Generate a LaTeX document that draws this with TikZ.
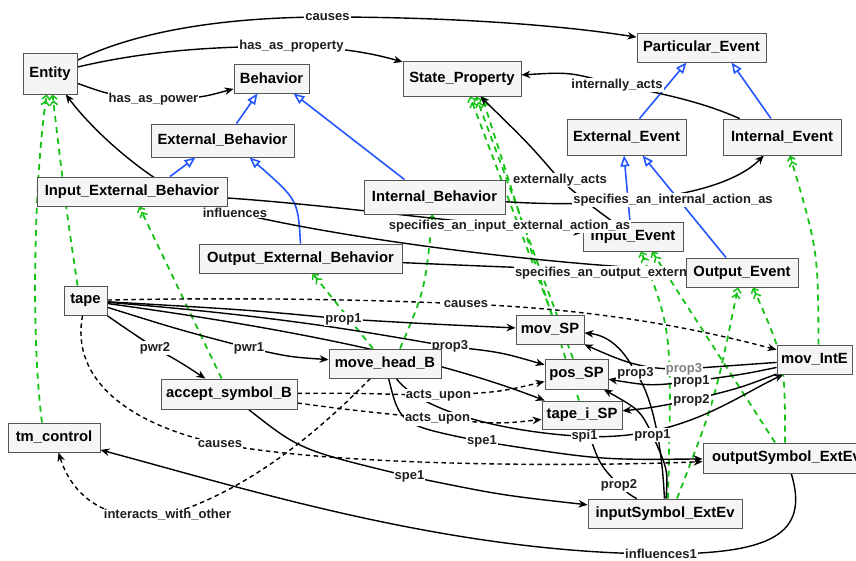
\documentclass[tikz,border=0pt]{standalone}
\usepackage{fontspec}
\setmainfont{Liberation Sans}
\usetikzlibrary{arrows.meta}
\pgfdeclarelayer{bg}
\pgfdeclarelayer{lbl}
\pgfdeclarelayer{top}
\pgfsetlayers{bg,lbl,main,top}
\definecolor{nodefill}{HTML}{F5F5F5}
\definecolor{nodeline}{HTML}{555555}
\definecolor{isagreen}{HTML}{17C217}
\definecolor{subblue}{HTML}{2457FF}
\definecolor{lbltext}{HTML}{1E1E1E}
\tikzset{
  box/.style={draw=nodeline, fill=nodefill, line width=0.9pt, inner sep=0pt, font=\bfseries\fontsize{14.8}{16}\selectfont, text=black},
  lbl/.style={fill=white, inner sep=1pt, font=\bfseries\fontsize{13}{14}\selectfont, text=lbltext},
  rel/.style={draw=black, line width=1.4pt, -{Stealth[length=9pt,width=7.5pt]}},
  drel/.style={rel, dash pattern=on 4.5pt off 3.5pt},
  inst/.style={draw=isagreen, line width=1.8pt, dash pattern=on 6pt off 5pt, -{Straight Barb[length=4pt,width=8pt,line width=1.5pt] Straight Barb[length=4pt,width=8pt,line width=1.5pt]}},
  sub/.style={draw=subblue, line width=1.6pt, -{Triangle[open,length=11pt,width=9pt,fill=white]}},
}
\begin{document}
\begin{tikzpicture}[x=1pt,y=-1pt]
\useasboundingbox (0,0) rectangle (856,560);
% ---------- nodes ----------
\node[box, minimum width=54pt,  minimum height=41pt] (ent)   at (50,73.5)   {Entity};
\node[box, minimum width=75pt,  minimum height=29pt] (beh)   at (271.5,78.5) {Behavior};
\node[box, minimum width=143pt, minimum height=33pt] (extb)  at (222.5,140.5) {External\_Behavior};
\node[box, minimum width=118pt, minimum height=35pt] (sp)    at (462,78.5)  {State\_Property};
\node[box, minimum width=129pt, minimum height=29pt] (pe)    at (701.5,47.5) {Particular\_Event};
\node[box, minimum width=119pt, minimum height=36pt] (exte)  at (626.5,137) {External\_Event};
\node[box, minimum width=118pt, minimum height=36pt] (inte)  at (782,137)   {Internal\_Event};
\node[box, minimum width=190pt, minimum height=29pt] (ieb)   at (132,191.5) {Input\_External\_Behavior};
\node[box, minimum width=141pt, minimum height=34pt] (intb)  at (434.5,197) {Internal\_Behavior};
\node[box, minimum width=203pt, minimum height=29pt] (oeb)   at (300.5,258.5) {Output\_External\_Behavior};
\node[box, minimum width=100pt, minimum height=29pt] (inpe)  at (633,236.5) {Input\_Event};
\node[box, minimum width=112pt, minimum height=29pt] (oute)  at (742,272.5) {Output\_Event};
\node[box, minimum width=43pt,  minimum height=29pt] (tape)  at (85.5,300.5) {tape};
\node[box, minimum width=68pt,  minimum height=29pt] (movsp) at (550,329.5) {mov\_SP};
\node[box, minimum width=112pt, minimum height=29pt] (mhb)   at (385,363.5) {move\_head\_B};
\node[box, minimum width=63pt,  minimum height=30pt] (possp) at (576.5,374) {pos\_SP};
\node[box, minimum width=75pt,  minimum height=29pt] (movint) at (814.5,359.5) {mov\_IntE};
\node[box, minimum width=136pt, minimum height=30pt] (asb)   at (229,394)   {accept\_symbol\_B};
\node[box, minimum width=80pt,  minimum height=28pt] (tisp)  at (582,415)   {tape\_i\_SP};
\node[box, minimum width=92pt,  minimum height=29pt] (tmc)   at (54,437.5)  {tm\_control};
\node[box, minimum width=167pt, minimum height=30pt] (osym)  at (786.5,458) {outputSymbol\_ExtEv};
\node[box, minimum width=154pt, minimum height=29pt] (isym)  at (665,513.5) {inputSymbol\_ExtEv};
% ---------- labels ----------
\begin{pgfonlayer}{lbl}
\node[lbl] (l1)  at (327.5,17)  {causes};
\node[lbl] (l2)  at (291.5,46.5) {has\_as\_property};
\node[lbl] (l3)  at (153.5,99)  {has\_as\_power};
\node[lbl] (l4)  at (617,85)    {internally\_acts};
\node[lbl] (l5)  at (560,180)   {externally\_acts};
\node[lbl] (l6)  at (235,212.5) {influences};
\node[lbl] (l7)  at (673,200)   {specifies\_an\_internal\_action\_as};
\node[lbl] (l9)  at (640,273)   {specifies\_an\_output\_external\_action\_as};
\node[lbl] (l10) at (466,304)   {causes};
\node[lbl] (l11) at (343.5,319) {prop1};
\node[lbl] (l12) at (450,346.5) {prop3};
\node[lbl] (l13) at (249,348)   {pwr1};
\node[lbl] (l14) at (155,348)   {pwr2};
\node[lbl] (l15) at (438.5,395.5) {acts\_upon};
\node[lbl] (l16) at (437.5,419) {acts\_upon};
\node[lbl] (l17) at (482,441.5) {spe1};
\node[lbl] (l18) at (220,444)   {causes};
\node[lbl] (l19) at (409.5,476.5) {spe1};
\node[lbl] (l20) at (167.5,515) {interacts\_with\_other};
\node[lbl] (l21) at (661,554)   {influences1};
\node[lbl, text=gray] (l22) at (684,369) {prop3};
\node[lbl] (l23) at (691.5,381.5) {prop1};
\node[lbl] (l24) at (691.5,400) {prop2};
\node[lbl] (l25) at (584.5,436.5) {spi1};
\node[lbl] (l26) at (635.5,373) {prop3};
\node[lbl] (l27) at (652.5,435) {prop1};
\node[lbl] (l28) at (619,485)   {prop2};
\end{pgfonlayer}
\begin{pgfonlayer}{top}
\node[lbl, inner sep=0.5pt] (l8) at (509.5,226.5) {specifies\_an\_input\_external\_action\_as};
\end{pgfonlayer}
% ---------- edges ----------
\begin{pgfonlayer}{bg}
\fill[white] (0,0) rectangle (856,560);
% subclass (blue)
\draw[sub] ([xshift=14pt]extb.north) -- ([xshift=-14pt]beh.south);
\draw[sub] ([xshift=-30pt]intb.north) -- ([xshift=22pt]beh.south);
\draw[sub] ([xshift=38pt]ieb.north) -- ([xshift=-27pt]extb.south);
\draw[sub] (oeb.north) .. controls (298,200) .. ([xshift=27pt]extb.south);
\draw[sub] ([xshift=13pt]exte.north) -- ([xshift=-15pt]pe.south);
\draw[sub] ([xshift=-11pt]inte.north) -- ([xshift=30pt]pe.south);
\draw[sub] ([xshift=-3pt]inpe.north) -- ([xshift=-2.5pt]exte.south);
\draw[sub] ([xshift=-16pt]oute.north) -- ([xshift=16pt]exte.south);
% instance (green)
\draw[inst] ([xshift=-12pt]tmc.north) .. controls (30,330) and (35,170) .. (ent);
\draw[inst] ([xshift=-8pt]tape.north) .. controls (65,200) .. (ent);
\draw[inst] (asb) -- (ieb);
\draw[inst] ([xshift=-12pt]mhb.north) -- ([xshift=12pt]oeb.south);
\draw[inst] ([xshift=15pt]mhb.north) .. controls (425,290) .. ([xshift=-2pt]intb.south);
\draw[inst] ([xshift=2pt]movsp.north) -- ([xshift=8pt]sp.south);
\draw[inst] ([xshift=-3.5pt]possp.north) -- ([xshift=14pt]sp.south);
\draw[inst] ([xshift=-3pt]tisp.north) -- ([xshift=20pt]sp.south);
\draw[inst] ([xshift=3pt]isym.north) .. controls (672,330) .. ([xshift=8pt]inpe.south);
\draw[inst] ([xshift=-11.5pt]osym.north) -- ([xshift=19pt]inpe.south);
\draw[inst] ([xshift=12pt]isym.north) .. controls (715,400) .. ([xshift=-4pt]oute.south);
\draw[inst] ([xshift=-1.5pt]osym.north) .. controls (785,360) .. ([xshift=11pt]oute.south);
\draw[inst] ([xshift=4pt]movint.north) .. controls (818,250) .. ([xshift=8pt]inte.south);
% relations (black)
\draw[rel] (ent) .. controls (150,25) and (250,17) .. (l1.center) .. controls (450,17) and (560,25) .. (pe);
\draw[rel] (ent) .. controls (150,50) and (220,46) .. (l2.center) .. controls (350,47) and (385,57) .. (sp);
\draw[rel] (ent) .. controls (110,95) .. (l3.center) .. controls (200,98) .. (beh);
\draw[rel] (oute) .. controls (550,265) and (350,240) .. (l6.center) .. controls (175,205) and (100,140) .. (ent);
\draw[rel] (inte) .. controls (720,110) and (690,98) .. (l4.center) .. controls (570,72) .. (sp);
\draw[rel] (inpe) .. controls (590,205) .. (l5.center) .. controls (530,145) .. (sp);
\draw[rel] (intb) .. controls (600,208) and (720,200) .. (inte);
\draw[rel] (ieb) .. controls (330,205) and (450,222) .. (inpe);
\draw[rel] (oeb) .. controls (460,265) and (560,270) .. (oute);
\draw[rel] (tape) .. controls (250,310) .. (l11.center) .. controls (430,324) .. (movsp);
\draw[rel] (tape) .. controls (300,318) and (380,335) .. (l12.center) .. controls (500,352) .. (possp);
\draw[rel] (tape) .. controls (300,330) and (440,360) .. (tisp);
\draw[rel] (tape) .. controls (180,330) .. (l13.center) .. controls (290,357) .. (mhb);
\draw[rel] (tape) .. controls (125,328) .. (l14.center) .. controls (180,362) .. (asb);
\draw[drel] (tape) .. controls (250,297) and (380,300) .. (l10.center) .. controls (620,310) and (720,335) .. (movint);
\draw[drel] (tape) .. controls (70,380) and (130,425) .. (l18.center) .. controls (350,468) and (600,466) .. (osym);
\draw[drel] (asb) .. controls (350,393) .. (l15.center) .. controls (500,392) .. (possp);
\draw[drel] (asb) .. controls (350,410) .. (l16.center) .. controls (500,424) .. (tisp);
\draw[rel] (mhb) .. controls (400,425) .. (l17.center) .. controls (600,460) .. (osym);
\draw[rel] (asb) .. controls (300,450) .. (l19.center) .. controls (500,495) .. (isym);
\draw[drel] (mhb) .. controls (320,430) and (250,490) .. (l20.center) .. controls (100,525) and (70,490) .. (tmc);
\draw[rel] (osym) .. controls (810,535) and (770,554) .. (l21.center) .. controls (450,553) and (250,490) .. (tmc);
\draw[rel] (movint) .. controls (730,366) .. (l22.center) .. controls (640,370) and (620,360) .. (movsp);
\draw[rel] (movint) .. controls (745,374) .. (l23.center) .. controls (650,386) .. (possp);
\draw[rel] (movint) .. controls (740,388) .. (l24.center) .. controls (650,408) .. (tisp);
\draw[rel] (mhb) .. controls (420,410) and (500,432) .. (l25.center) .. controls (680,440) and (730,400) .. (movint);
\draw[rel] (isym) .. controls (662,440) and (650,390) .. (l26.center) .. controls (622,345) and (605,335) .. (movsp);
\draw[rel] (isym) .. controls (668,470) .. (l27.center) .. controls (640,410) .. (possp);
\draw[rel] (isym) .. controls (630,495) .. (l28.center) .. controls (600,465) .. (tisp);
\end{pgfonlayer}
\end{tikzpicture}
\end{document}
